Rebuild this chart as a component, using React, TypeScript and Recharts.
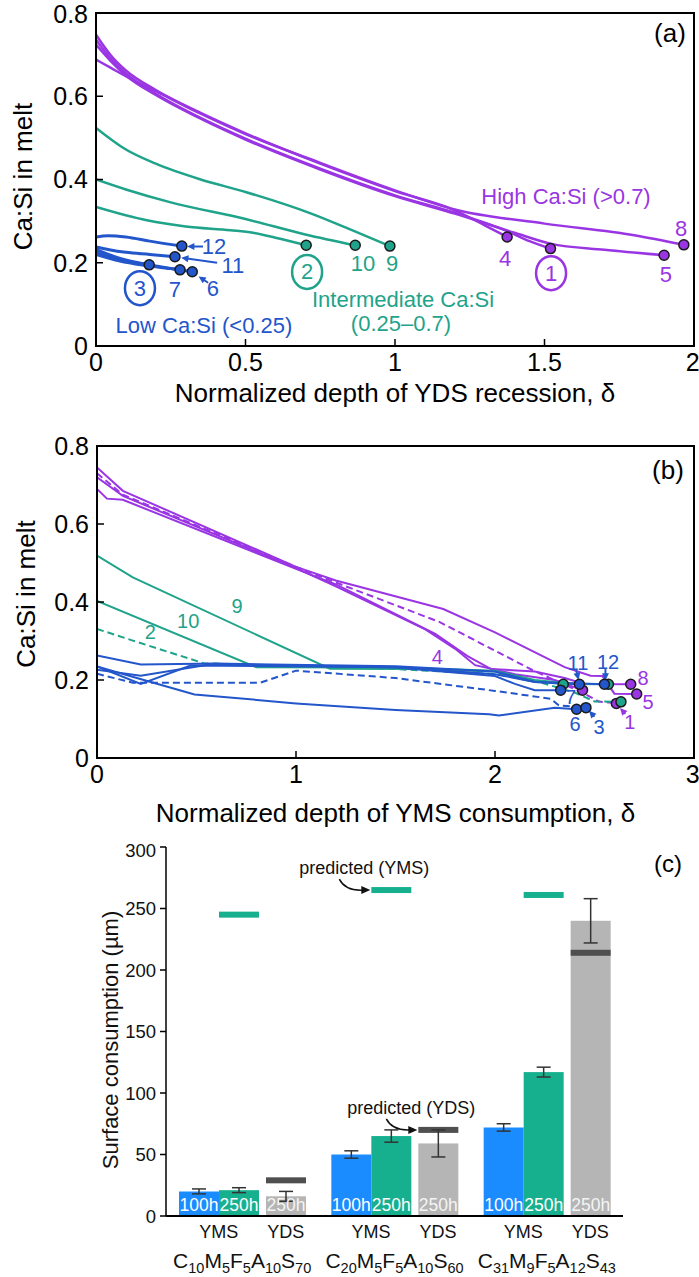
import React from 'react'
import {
  ComposedChart, Line, Scatter, XAxis, YAxis, ReferenceArea, ReferenceDot, ReferenceLine,
  BarChart, Bar, ErrorBar, LabelList,
} from 'recharts'

const PURPLE = '#9A35E3'
const TEAL = '#1FA38A'
const BLUE = '#2355CB'
const FONT = '"Liberation Sans", Arial, Helvetica, sans-serif'

type Pt = [number, number]

// ---------- (a) Ca:Si vs normalized depth of YDS recession ----------
const aHigh1: Pt[] = [[0, 0.736], [0.05, 0.69], [0.1, 0.655], [0.2, 0.606], [0.35, 0.548], [0.5, 0.498], [0.75, 0.426], [1.0, 0.362], [1.2, 0.32], [1.375, 0.276], [1.45, 0.252], [1.52, 0.234]]
const aHigh4: Pt[] = [[0, 0.748], [0.05, 0.698], [0.1, 0.662], [0.2, 0.615], [0.35, 0.56], [0.5, 0.511], [0.75, 0.438], [1.0, 0.372], [1.2, 0.326], [1.3, 0.29], [1.375, 0.262]]
const aHigh5: Pt[] = [[0, 0.724], [0.05, 0.684], [0.1, 0.65], [0.2, 0.603], [0.35, 0.546], [0.5, 0.496], [0.75, 0.424], [1.0, 0.36], [1.2, 0.318], [1.4, 0.272], [1.52, 0.246], [1.7, 0.231], [1.9, 0.218]]
const aHigh8: Pt[] = [[0, 0.688], [0.05, 0.668], [0.1, 0.648], [0.2, 0.612], [0.35, 0.558], [0.5, 0.509], [0.75, 0.44], [1.0, 0.374], [1.2, 0.328], [1.5, 0.294], [1.8, 0.266], [1.966, 0.243]]
const aMid9: Pt[] = [[0, 0.524], [0.1, 0.472], [0.2, 0.438], [0.35, 0.4], [0.5, 0.37], [0.72, 0.318], [0.85, 0.28], [0.983, 0.24]]
const aMid10: Pt[] = [[0, 0.4], [0.1, 0.376], [0.25, 0.345], [0.5, 0.305], [0.7, 0.268], [0.867, 0.242]]
const aMid2: Pt[] = [[0, 0.334], [0.17, 0.302], [0.3, 0.287], [0.45, 0.278], [0.525, 0.272], [0.6, 0.26], [0.703, 0.242]]
const aLow12: Pt[] = [[0, 0.262], [0.04, 0.265], [0.1, 0.262], [0.18, 0.252], [0.287, 0.24]]
const aLow11: Pt[] = [[0, 0.238], [0.04, 0.232], [0.1, 0.225], [0.18, 0.22], [0.264, 0.2145]]
const aLow3: Pt[] = [[0, 0.226], [0.05, 0.212], [0.1, 0.204], [0.178, 0.195]]
const aLow7: Pt[] = [[0, 0.232], [0.06, 0.215], [0.12, 0.203], [0.2, 0.192], [0.281, 0.183]]
const aLow6: Pt[] = [[0, 0.22], [0.08, 0.204], [0.16, 0.194], [0.25, 0.186], [0.322, 0.1785]]

// ---------- (b) Ca:Si vs normalized depth of YMS consumption ----------
const bHigh5: Pt[] = [[0, 0.745], [0.13, 0.685], [1.0, 0.49], [1.2, 0.455], [1.74, 0.382], [2.0, 0.322], [2.35, 0.233], [2.48, 0.211], [2.54, 0.21], [2.6, 0.165], [2.712, 0.164]]
const bHigh8: Pt[] = [[0, 0.69], [0.05, 0.665], [0.13, 0.662], [1.0, 0.485], [1.2, 0.445], [1.7, 0.318], [1.86, 0.262], [1.98, 0.228], [2.2, 0.222], [2.35, 0.205], [2.45, 0.19], [2.682, 0.189]]
const bHigh4: Pt[] = [[0, 0.72], [0.13, 0.672], [1.0, 0.487], [1.2, 0.44], [1.65, 0.33], [1.8, 0.28], [1.9, 0.238], [2.1, 0.215], [2.3, 0.2], [2.44, 0.174]]
const bHigh1: Pt[] = [[0, 0.73], [0.13, 0.675], [1.0, 0.49], [1.2, 0.45], [1.72, 0.349], [2.19, 0.225], [2.28, 0.204], [2.45, 0.165], [2.52, 0.145], [2.61, 0.14]]
const bMid9: Pt[] = [[0, 0.519], [0.18, 0.463], [1.17, 0.229], [1.6, 0.228], [2.0, 0.222], [2.15, 0.2], [2.343, 0.189]]
const bMid10: Pt[] = [[0, 0.403], [0.8, 0.233], [1.5, 0.232], [2.0, 0.224], [2.2, 0.2], [2.4, 0.19], [2.57, 0.189]]
const bMid2: Pt[] = [[0, 0.331], [0.18, 0.301], [0.536, 0.243], [1.0, 0.235], [1.5, 0.228], [2.0, 0.215], [2.2, 0.198], [2.4, 0.168], [2.5, 0.145], [2.633, 0.144]]
const bLow12: Pt[] = [[0, 0.263], [0.22, 0.24], [0.6, 0.242], [1.5, 0.235], [2.0, 0.222], [2.2, 0.195], [2.55, 0.189]]
const bLow11: Pt[] = [[0, 0.235], [0.22, 0.19], [0.47, 0.237], [1.5, 0.233], [2.0, 0.215], [2.2, 0.195], [2.424, 0.189]]
const bLow7: Pt[] = [[0, 0.226], [0.22, 0.211], [0.58, 0.241], [1.5, 0.232], [2.0, 0.21], [2.1, 0.19], [2.2, 0.174], [2.33, 0.174]]
const bLow6: Pt[] = [[0, 0.235], [0.2, 0.205], [0.49, 0.163], [1.0, 0.14], [1.5, 0.123], [1.97, 0.112], [2.02, 0.109], [2.3, 0.129], [2.41, 0.125]]
const bLow3: Pt[] = [[0, 0.216], [0.18, 0.193], [0.82, 0.193], [1.0, 0.224], [1.5, 0.205], [2.0, 0.172], [2.28, 0.152], [2.32, 0.135], [2.457, 0.129]]

const caSiTicks = [0, 0.2, 0.4, 0.6, 0.8]
const aTicks = [0, 0.5, 1, 1.5, 2]
const bTicks = [0, 1, 2, 3]

// ---------- (c) surface consumption ----------
const compositions = ['C10M5F5A10S70', 'C20M5F5A10S60', 'C31M9F5A12S43']
const yms100h = [20, 50, 72]
const yms100hErr = [2, 3, 3]
const yms250h = [21, 65, 117]
const yms250hErr = [2, 5, 4]
const yds250h = [16, 59, 240]
const yds250hErr = [4, 11, 18]
const predictedYMS = [245, 265, 261]
const predictedYDS = [29, 70, 214]
const surfaceTicks = [0, 50, 100, 150, 200, 250, 300]

type Series = { pts: Pt[]; color: string; dashed?: boolean; w: number }
type Note = { x: number; y: number; t: string; c: string; ring?: boolean }
type Arrow = { from: Pt; to: Pt; c: string; dashed?: boolean }

const seriesA: Series[] = [
  { pts: aHigh1, color: PURPLE, w: 2.5 },
  { pts: aHigh4, color: PURPLE, w: 2.5 },
  { pts: aHigh5, color: PURPLE, w: 2.5 },
  { pts: aHigh8, color: PURPLE, w: 2.5 },
  { pts: aMid9, color: TEAL, w: 2.5 },
  { pts: aMid10, color: TEAL, w: 2.5 },
  { pts: aMid2, color: TEAL, w: 2.5 },
  { pts: aLow12, color: BLUE, w: 3 },
  { pts: aLow11, color: BLUE, w: 3 },
  { pts: aLow3, color: BLUE, w: 3 },
  { pts: aLow7, color: BLUE, w: 3 },
  { pts: aLow6, color: BLUE, w: 3 },
]

const seriesB: Series[] = [
  { pts: bHigh5, color: PURPLE, w: 2 },
  { pts: bHigh8, color: PURPLE, w: 2 },
  { pts: bHigh4, color: PURPLE, w: 2 },
  { pts: bHigh1, color: PURPLE, w: 2, dashed: true },
  { pts: bMid9, color: TEAL, w: 2 },
  { pts: bMid10, color: TEAL, w: 2 },
  { pts: bMid2, color: TEAL, w: 2, dashed: true },
  { pts: bLow12, color: BLUE, w: 2 },
  { pts: bLow11, color: BLUE, w: 2 },
  { pts: bLow7, color: BLUE, w: 2 },
  { pts: bLow6, color: BLUE, w: 2 },
  { pts: bLow3, color: BLUE, w: 2, dashed: true },
]

const notesA: Note[] = [
  { x: 1.572, y: 0.36, t: 'High Ca:Si (>0.7)', c: PURPLE },
  { x: 1.957, y: 0.283, t: '8', c: PURPLE },
  { x: 1.368, y: 0.211, t: '4', c: PURPLE },
  { x: 1.522, y: 0.175, t: '1', c: PURPLE, ring: true },
  { x: 1.906, y: 0.171, t: '5', c: PURPLE },
  { x: 0.706, y: 0.178, t: '2', c: TEAL, ring: true },
  { x: 0.893, y: 0.199, t: '10', c: TEAL },
  { x: 0.99, y: 0.199, t: '9', c: TEAL },
  { x: 1.027, y: 0.112, t: 'Intermediate Ca:Si', c: TEAL },
  { x: 1.02, y: 0.054, t: '(0.25–0.7)', c: TEAL },
  { x: 0.395, y: 0.238, t: '12', c: BLUE },
  { x: 0.458, y: 0.193, t: '11', c: BLUE },
  { x: 0.391, y: 0.139, t: '6', c: BLUE },
  { x: 0.264, y: 0.135, t: '7', c: BLUE },
  { x: 0.147, y: 0.139, t: '3', c: BLUE, ring: true },
  { x: 0.361, y: 0.05, t: 'Low Ca:Si (<0.25)', c: BLUE },
]

const arrowsA: Arrow[] = [
  { from: [0.358, 0.239], to: [0.305, 0.239], c: BLUE },
  { from: [0.405, 0.2], to: [0.285, 0.212], c: BLUE },
  { from: [0.375, 0.152], to: [0.343, 0.167], c: BLUE },
]

const notesB: Note[] = [
  { x: 0.704, y: 0.39, t: '9', c: TEAL },
  { x: 0.458, y: 0.352, t: '10', c: TEAL },
  { x: 0.268, y: 0.322, t: '2', c: TEAL },
  { x: 1.71, y: 0.258, t: '4', c: PURPLE },
  { x: 2.417, y: 0.243, t: '11', c: BLUE },
  { x: 2.568, y: 0.247, t: '12', c: BLUE },
  { x: 2.744, y: 0.205, t: '8', c: PURPLE },
  { x: 2.769, y: 0.144, t: '5', c: PURPLE },
  { x: 2.678, y: 0.093, t: '1', c: PURPLE },
  { x: 2.402, y: 0.087, t: '6', c: BLUE },
  { x: 2.523, y: 0.08, t: '3', c: BLUE },
  { x: 2.38, y: 0.157, t: '7', c: BLUE },
]

const arrowsB: Arrow[] = [
  { from: [2.408, 0.225], to: [2.42, 0.2], c: BLUE },
  { from: [2.555, 0.228], to: [2.555, 0.199], c: BLUE },
  { from: [2.5, 0.106], to: [2.472, 0.121], c: BLUE, dashed: true },
  { from: [2.655, 0.113], to: [2.628, 0.128], c: PURPLE, dashed: true },
]

const toXY = (pts: Pt[]) => pts.map(([x, y]) => ({ x, y }))

function ArrowShape(props: any) {
  const { x1, y1, x2, y2, color, dashed } = props
  const a = Math.atan2(y2 - y1, x2 - x1)
  const h = 8
  const p1 = [x2 - h * Math.cos(a - 0.45), y2 - h * Math.sin(a - 0.45)]
  const p2 = [x2 - h * Math.cos(a + 0.45), y2 - h * Math.sin(a + 0.45)]
  return (
    <g>
      <line x1={x1} y1={y1} x2={x2 - 4 * Math.cos(a)} y2={y2 - 4 * Math.sin(a)} stroke={color} strokeWidth={2}
        strokeDasharray={dashed ? '3 2' : undefined} />
      <polygon points={`${x2},${y2} ${p1[0]},${p1[1]} ${p2[0]},${p2[1]}`} fill={color} />
    </g>
  )
}

function NoteShape({ cx, cy, note, size }: { cx: number; cy: number; note: Note; size: number }) {
  return (
    <g>
      {note.ring && <ellipse cx={cx} cy={cy} rx={15} ry={17} fill="none" stroke={note.c} strokeWidth={2.5} />}
      <text x={cx} y={cy} textAnchor="middle" dominantBaseline="central" fill={note.c} fontSize={size} fontFamily={FONT}>
        {note.t}
      </text>
    </g>
  )
}

// rotated axis title, centred in the axis box and shifted by dx/dy
function yTitle(text: string, size: number, dx: number, dy: number, fill = '#000') {
  return (props: any) => {
    const vb = props.viewBox || {}
    const x = vb.x + vb.width / 2 + dx
    const y = vb.y + vb.height / 2 + dy
    return (
      <text x={x} y={y} transform={`rotate(-90, ${x}, ${y})`} textAnchor="middle" dominantBaseline="central"
        style={{ fontSize: size, fontFamily: FONT }} fill={fill}>{text}</text>
    )
  }
}

interface PanelProps {
  series: Series[]
  notes: Note[]
  arrows: Arrow[]
  xMax: number
  xTicks: number[]
  xTitle: string
  top: number
  yAxisW: number
  xAxisH: number
  titleDx: number
  titleDy: number
  smooth: boolean
  noteSize: number
}

function DeltaPanel(p: PanelProps) {
  const ends = p.series.map(s => ({ x: s.pts[s.pts.length - 1][0], y: s.pts[s.pts.length - 1][1], color: s.color }))
  const axisText = { fill: '#000', fontSize: 25, fontFamily: FONT }
  return (
    <ComposedChart width={699} height={420} margin={{ top: p.top, right: 5, bottom: 0, left: 0 }}>
      <XAxis type="number" dataKey="x" domain={[0, p.xMax]} ticks={p.xTicks} allowDataOverflow height={p.xAxisH}
        tickSize={-7} tickMargin={14} tick={axisText} axisLine={{ stroke: '#000', strokeWidth: 2 }}
        tickLine={{ stroke: '#000', strokeWidth: 1.5 }}
        label={{ value: p.xTitle, position: 'insideBottom', offset: 18, fill: '#000', fontSize: 26, fontFamily: FONT }} />
      <YAxis type="number" dataKey="y" domain={[0, 0.8]} ticks={caSiTicks} allowDataOverflow width={p.yAxisW}
        tickSize={-7} tickMargin={15} tick={axisText} axisLine={{ stroke: '#000', strokeWidth: 2 }}
        tickLine={{ stroke: '#000', strokeWidth: 1.5 }}
        label={{ value: 'Ca:Si in melt', position: 'center', content: yTitle('Ca:Si in melt', 26, p.titleDx, p.titleDy) }} />
      <ReferenceArea x1={0} x2={p.xMax} y1={0} y2={0.8} fill="none" fillOpacity={0} stroke="#000" strokeWidth={2} />
      {p.series.map((s, i) => (
        <Line key={i} data={toXY(s.pts)} dataKey="y" type={p.smooth ? 'monotone' : 'linear'} stroke={s.color}
          strokeWidth={s.w} strokeDasharray={s.dashed ? '7 4' : undefined} dot={false} activeDot={false}
          isAnimationActive={false} />
      ))}
      {p.arrows.map((a, i) => (
        <ReferenceLine key={'ar' + i} segment={[{ x: a.from[0], y: a.from[1] }, { x: a.to[0], y: a.to[1] }]}
          shape={(lp: any) => <ArrowShape {...lp} color={a.c} dashed={a.dashed} />} />
      ))}
      <Scatter data={ends} dataKey="y" isAnimationActive={false}
        shape={(sp: any) => <circle cx={sp.cx} cy={sp.cy} r={5} fill={sp.payload.color} stroke="#1a1a1a" strokeWidth={1.5} />} />
      {p.notes.map((n, i) => (
        <ReferenceDot key={'n' + i} x={n.x} y={n.y} r={0}
          shape={(dp: any) => <NoteShape cx={dp.cx} cy={dp.cy} note={n} size={p.noteSize} />} />
      ))}
    </ComposedChart>
  )
}

// ---------- panel (c) ----------
const BAR = 40
const GAP = 7
const GROUP_W = 3 * BAR + GAP
const durations = ['100h', '250h', '250h']

const barData = compositions.map((comp, i) => ({
  comp,
  yms100: yms100h[i],
  yms100Err: yms100hErr[i],
  yms250: yms250h[i],
  yms250Err: yms250hErr[i],
  yds250: yds250h[i],
  yds250Err: yds250hErr[i],
  predYMS: predictedYMS[i],
  predYDS: predictedYDS[i],
}))

function CompTick({ x, y, payload }: any) {
  const parts = [...String(payload.value).matchAll(/([A-Z])(\d+)/g)]
  return (
    <g fontFamily={FONT} fill="#111">
      <text x={x - GROUP_W / 2 + BAR} y={y + 22} textAnchor="middle" fontSize={18}>YMS</text>
      <text x={x + GROUP_W / 2 - BAR / 2} y={y + 22} textAnchor="middle" fontSize={18}>YDS</text>
      <text x={x} y={y + 52} textAnchor="middle" fontSize={21}>
        {parts.map((m, i) => [
          <tspan key={'e' + i} dy={i ? -5 : 0}>{m[1]}</tspan>,
          <tspan key={'n' + i} fontSize={14.5} dy={5}>{m[2]}</tspan>,
        ])}
      </text>
    </g>
  )
}

function predictedShape(valueKey: string, predKey: string, fill: string, predFill: string, note: string) {
  return (props: any) => {
    const { x, y, width, height, payload, index } = props
    const perUnit = height / payload[valueKey]
    const py = y + height - payload[predKey] * perUnit
    return (
      <g>
        <rect x={x} y={y} width={width} height={height} fill={fill} />
        <rect x={x} y={py - 3} width={width} height={6} fill={predFill} />
        {index === 1 && (
          <g>
            <text x={x - 7} y={py - 16} textAnchor="middle" fontSize={18} fontFamily={FONT} fill="#111">{note}</text>
            <path d={`M ${x - 32} ${py - 11} Q ${x - 26} ${py + 1} ${x - 8} ${py}`} fill="none" stroke="#111" strokeWidth={1.5} />
            <polygon points={`${x - 1},${py} ${x - 10},${py - 4} ${x - 10},${py + 4}`} fill="#111" />
          </g>
        )}
      </g>
    )
  }
}

const errStyle = { stroke: '#333', strokeWidth: 1.5 }

function SurfacePanel() {
  return (
    <BarChart width={699} height={437} data={barData} margin={{ top: 7, right: 76, bottom: 0, left: 0 }} barGap={0}>
      <XAxis dataKey="comp" interval={0} height={61} tickSize={0} tickMargin={0} tickLine={false}
        axisLine={{ stroke: '#000', strokeWidth: 2 }} tick={<CompTick />} />
      <YAxis domain={[0, 300]} ticks={surfaceTicks} width={166} tickSize={6} tickMargin={4}
        axisLine={{ stroke: '#000', strokeWidth: 1.5 }} tickLine={{ stroke: '#000', strokeWidth: 1.5 }}
        tick={{ fill: '#111', fontSize: 18.5, fontFamily: FONT }} />
      <Bar dataKey="yms100" barSize={BAR} fill="#1A8CFF" isAnimationActive={false}>
        <ErrorBar dataKey="yms100Err" width={7} {...errStyle} />
        <LabelList dataKey="yms100" position="insideBottom" offset={5} formatter={() => durations[0]} fill="#fff" fontSize={17.5} fontFamily={FONT} />
      </Bar>
      <Bar dataKey="yms250" barSize={BAR} fill="#17B08F" isAnimationActive={false}
        shape={predictedShape('yms250', 'predYMS', '#17B08F', '#17B08F', 'predicted (YMS)')}>
        <ErrorBar dataKey="yms250Err" width={7} {...errStyle} />
        <LabelList dataKey="yms250" position="insideBottom" offset={5} formatter={() => durations[1]} fill="#fff" fontSize={17.5} fontFamily={FONT} />
      </Bar>
      <Bar dataKey={() => 0} barSize={GAP} fill="none" isAnimationActive={false} />
      <Bar dataKey="yds250" barSize={BAR} fill="#B5B5B5" isAnimationActive={false}
        shape={predictedShape('yds250', 'predYDS', '#B5B5B5', '#4F4F4F', 'predicted (YDS)')}>
        <ErrorBar dataKey="yds250Err" width={7} {...errStyle} />
        <LabelList dataKey="yds250" position="insideBottom" offset={5} formatter={() => durations[2]} fill="#f4f4f4" fontSize={17.5} fontFamily={FONT} />
      </Bar>
    </BarChart>
  )
}

export default function App() {
  return (
    <div style={{ position: 'relative', width: 699, height: 1277, background: '#fff', fontFamily: FONT, overflow: 'hidden' }}>
      <style>{'body{margin:0}'}</style>
      <div style={{ position: 'absolute', left: 0, top: 0 }}>
        <DeltaPanel series={seriesA} notes={notesA} arrows={arrowsA} xMax={2} xTicks={aTicks}
          xTitle="Normalized depth of YDS recession, δ" top={13} yAxisW={96} xAxisH={74}
          titleDx={-25} titleDy={-3} smooth noteSize={22} />
      </div>
      <div style={{ position: 'absolute', left: 0, top: 420 }}>
        <DeltaPanel series={seriesB} notes={notesB} arrows={arrowsB} xMax={3} xTicks={bTicks}
          xTitle="Normalized depth of YMS consumption, δ" top={26} yAxisW={97} xAxisH={82}
          titleDx={-23} titleDy={-8} smooth={false} noteSize={20} />
      </div>
      <div style={{ position: 'absolute', left: 0, top: 840 }}>
        <SurfacePanel />
      </div>
      <svg width={699} height={1277} style={{ position: 'absolute', left: 0, top: 0, pointerEvents: 'none' }}>
        <g fontFamily={FONT} fill="#000" textAnchor="middle" dominantBaseline="central">
          <text x={670} y={33} fontSize={26}>(a)</text>
          <text x={668} y={470} fontSize={26}>(b)</text>
          <text x={668} y={863} fontSize={24}>(c)</text>
          <text x={110} y={1040} fontSize={22} fill="#111" transform="rotate(-90, 110, 1040)">Surface consumption (µm)</text>
        </g>
      </svg>
    </div>
  )
}
